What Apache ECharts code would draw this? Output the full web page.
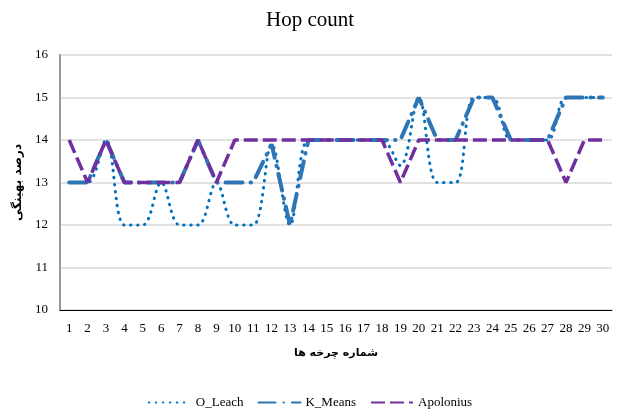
<!DOCTYPE html>
<html>
<head>
<meta charset="utf-8">
<script src="https://cdn.jsdelivr.net/npm/echarts@6/dist/echarts.min.js"></script>
<style>html,body{margin:0;padding:0;background:#fff;}#c{width:620px;height:414px;}</style>
</head>
<body>
<div id="c"></div>
<script>
const categories = ['1','2','3','4','5','6','7','8','9','10','11','12','13','14','15','16','17','18','19','20','21','22','23','24','25','26','27','28','29','30'];
const oLeach = [13,13,14,12,12,13,12,12,13,12,12,13.9,12,14,14,14,14,14,13.4,15,13,13,15,15,14,14,14,15,15,15];
const kMeans = [13,13,14,13,13,13,13,14,13,13,13,13.9,12,14,14,14,14,14,14,15,14,14,15,15,14,14,14,15,15,15];
const apolonius = [14,13,14,13,13,13,13,14,13,14,14,14,14,14,14,14,14,14,13,14,14,14,14,14,14,14,14,13,14,14];
const yTicks = [10,11,12,13,14,15,16];

const serif = '"Liberation Serif", "Times New Roman", "DejaVu Serif", serif';
const chart = echarts.init(document.getElementById('c'));
chart.setOption({
  animation: false,
  title: {
    text: 'Hop count', left: 'center', top: 5,
    textStyle: { fontFamily: serif, fontSize: 21, fontWeight: 'normal', color: '#000' }
  },
  legend: {
    bottom: 0, left: 'center', itemWidth: 42, itemHeight: 8, itemGap: 14,
    itemStyle: { opacity: 0 },
    textStyle: { fontFamily: serif, fontSize: 13, color: '#000' },
    data: ['O_Leach', 'K_Means', 'Apolonius']
  },
  grid: { left: 60, right: 8, top: 55, bottom: 104 },
  xAxis: {
    type: 'category', data: categories, boundaryGap: true,
    name: 'شماره چرخه ها', nameLocation: 'middle', nameGap: 38,
    nameTextStyle: { fontFamily: '"DejaVu Sans", sans-serif', fontSize: 11, fontWeight: 'bold', color: '#000' },
    axisLine: { lineStyle: { color: '#000', width: 1 } },
    axisTick: { show: false },
    axisLabel: { fontFamily: serif, fontSize: 13, color: '#000', margin: 12, interval: 0 }
  },
  yAxis: {
    type: 'value', min: 10, max: 16, interval: 1,
    name: 'درصد بهینگی', nameLocation: 'middle', nameGap: 28, nameRotate: 90,
    nameTextStyle: { fontFamily: '"DejaVu Sans", sans-serif', fontSize: 12, fontWeight: 'bold', color: '#000' },
    axisLine: { show: true, lineStyle: { color: '#999', width: 2 } },
    axisTick: { show: false },
    splitLine: { lineStyle: { color: '#d9d9d9', width: 1.5 } },
    axisLabel: {
      fontFamily: serif, fontSize: 13, color: '#000', margin: 12,
      formatter: v => yTicks.includes(v) ? String(v) : ''
    }
  },
  series: [
    {
      name: 'O_Leach', type: 'line', data: oLeach, smooth: 0.35, symbol: 'none',
      color: '#0070C0',
      lineStyle: { color: '#0070C0', width: 3, type: [0.5, 6.5], cap: 'round' }
    },
    {
      name: 'K_Means', type: 'line', data: kMeans, smooth: false, symbol: 'none',
      color: '#2E75B6',
      lineStyle: { color: '#2E75B6', width: 4, type: [17, 8, 0.5, 8], cap: 'round' }
    },
    {
      name: 'Apolonius', type: 'line', data: apolonius, smooth: false, symbol: 'none',
      color: '#7030A0',
      lineStyle: { color: '#7030A0', width: 3.5, type: [14, 5], cap: 'butt' }
    }
  ]
});
</script>
</body>
</html>
